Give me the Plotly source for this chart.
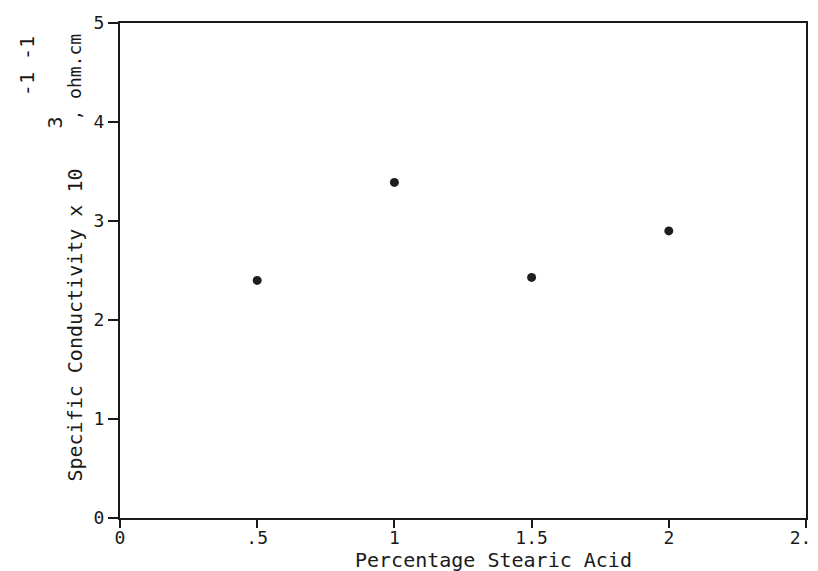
import plotly.graph_objects as go

# Data
stearic_pct = [0.5, 1.0, 1.5, 2.0]
conductivity = [2.40, 3.39, 2.43, 2.90]

x_tickvals = [0, 0.5, 1, 1.5, 2, 2.5]
x_ticktext = ["0", ".5", "1", "1.5", "2", "2.5"]
y_tickvals = [0, 1, 2, 3, 4, 5]
y_ticktext = ["0", "1", "2", "3", "4", "5"]

W, H = 818, 571
L, R, T, B = 112, 4, 15, 61
FONT = "DejaVu Sans Mono"

def px(x):
    return (x - L) / (W - L - R)

def py(y):
    return (H - B - y) / (H - T - B)

fig = go.Figure()
fig.add_trace(go.Scatter(
    x=stearic_pct, y=conductivity, mode="markers",
    marker=dict(color="#1e1e1e", size=9),
    showlegend=False, hoverinfo="skip",
))

axis_common = dict(
    showline=True, linecolor="#1a1a1a", linewidth=2, mirror=True,
    ticks="outside", tickwidth=2, tickcolor="#1a1a1a",
    showgrid=False, zeroline=False,
    tickfont=dict(family=FONT, size=18, color="#1a1a1a"),
)

fig.update_xaxes(range=[0, 2.5], tickvals=x_tickvals, ticktext=x_ticktext, ticklen=8,
                 ticklabelstandoff=-6, ticklabeloverflow="allow", **axis_common)
fig.update_yaxes(range=[0, 5], tickvals=y_tickvals, ticktext=y_ticktext, ticklen=10, **axis_common)

annotations = [
    dict(text="Percentage Stearic Acid", x=px(494), y=py(552), xanchor="center", yanchor="middle",
         font=dict(family=FONT, size=20, color="#1a1a1a")),
    dict(text="Specific Conductivity x 10", x=px(65), y=py(476), xanchor="center", yanchor="bottom",
         textangle=-90, font=dict(family=FONT, size=20, color="#1a1a1a")),
    dict(text="3", x=px(45), y=py(115), xanchor="center", yanchor="middle",
         textangle=-90, font=dict(family=FONT, size=20, color="#1a1a1a")),
    dict(text=", ohm.cm", x=px(65), y=py(24), xanchor="center", yanchor="top",
         textangle=-90, font=dict(family=FONT, size=18, color="#1a1a1a")),
    dict(text="-1 -1", x=px(17), y=py(26), xanchor="center", yanchor="top",
         textangle=-90, font=dict(family=FONT, size=20, color="#1a1a1a")),
]
for a in annotations:
    a.update(xref="paper", yref="paper", showarrow=False)

fig.update_layout(
    width=W, height=H,
    margin=dict(l=L, r=R, t=T, b=B),
    paper_bgcolor="white", plot_bgcolor="white",
    annotations=annotations,
)

fig.write_html("out.html")
